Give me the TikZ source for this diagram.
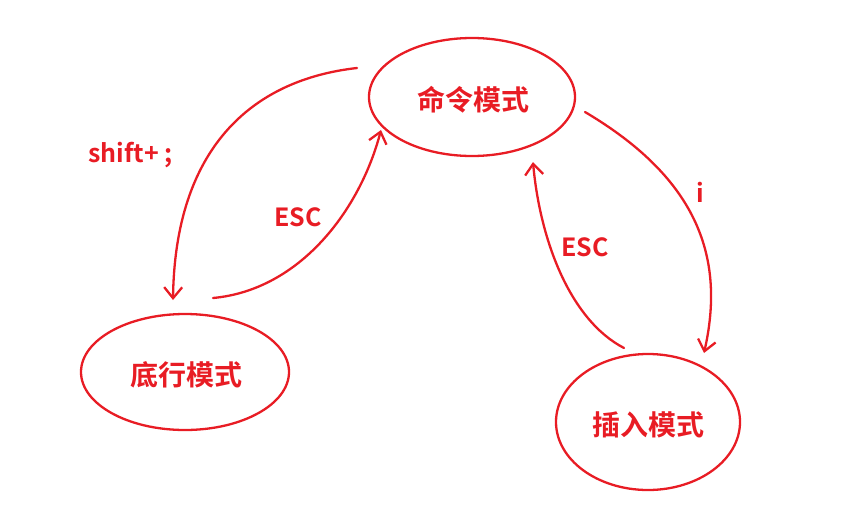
\documentclass[tikz,border=0pt]{standalone}
\usepackage{fontspec}
\setmainfont{Noto Sans CJK SC}[BoldFont={* Bold}]
\usetikzlibrary{arrows.meta}
\definecolor{pen}{RGB}{232,28,36}
\begin{document}
\begin{tikzpicture}[x=1pt,y=-1pt,
  ring/.style={draw=pen,line width=2.3pt},
  stxt/.style={text=pen,font=\fontsize{28}{32}\selectfont\bfseries,inner sep=0pt},
  lbl/.style={text=pen,font=\fontsize{25}{30}\selectfont\bfseries,inner sep=0pt},
  conn/.style={draw=pen,line width=2.3pt,line cap=round,-{Straight Barb[length=11pt,width=18pt,line width=2.3pt]}}]
\useasboundingbox (0,0) rectangle (848,517);
\draw[ring] (472,97) ellipse [x radius=103, y radius=59];
\node[stxt] (cmd) at (473,100) {命令模式};
\draw[ring] (185,372) ellipse [x radius=104, y radius=58];
\node[stxt] (bot) at (186,375) {底行模式};
\draw[ring] (648,422) ellipse [x radius=92, y radius=68];
\node[stxt] (ins) at (648,425) {插入模式};
\coordinate (a1) at (357,68);
\coordinate (a2) at (173,300);
\coordinate (b1) at (213,298);
\coordinate (b2) at (381,130);
\coordinate (c1) at (585,112);
\coordinate (c2) at (704,353);
\coordinate (d1) at (624,348);
\coordinate (d2) at (533,162);
\draw[conn] (a1) .. controls (250,80) and (175,150) .. (a2);
\draw[conn] (b1) .. controls (300,290) and (360,210) .. (b2);
\draw[conn] (c1) .. controls (700,180) and (725,260) .. (c2);
\draw[conn] (d1) .. controls (570,320) and (540,240) .. (d2);
\node[lbl,anchor=west] (l1) at (88,155) {shift+ ;};
\node[lbl] (l2) at (298,217) {ESC};
\node[lbl] (l3) at (700,192) {i};
\node[lbl] (l4) at (585,247) {ESC};
\end{tikzpicture}
\end{document}
